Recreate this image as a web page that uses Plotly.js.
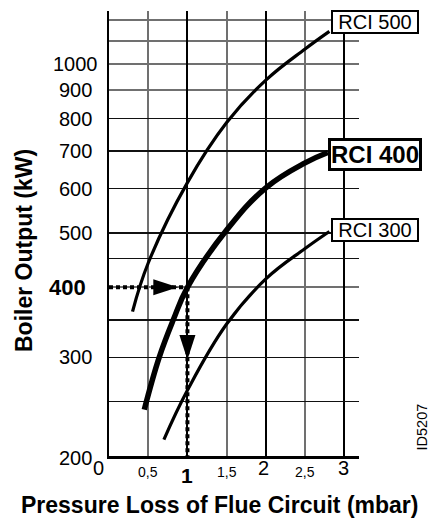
<!DOCTYPE html>
<html>
<head>
<meta charset="utf-8">
<script src="https://cdn.plot.ly/plotly-3.0.1.min.js"></script>
<style>html,body{margin:0;padding:0;background:#fff;}#chart{width:431px;height:521px;}</style>
</head>
<body>
<div id="chart"></div>
<script>
// ---- data ----
const seriesNames = ['RCI 500', 'RCI 400', 'RCI 300'];
const pressure500 = [0.30, 0.50, 1.0, 1.5, 2.0, 2.5, 2.81];
const output500   = [362, 442, 615, 787, 937, 1065, 1145];
const pressure400 = [0.45, 0.64, 0.82, 1.0, 1.5, 2.0, 2.5, 2.79];
const output400   = [242, 300, 350, 400, 506, 602, 667, 696];
const pressure300 = [0.70, 1.0, 1.5, 2.0, 2.5, 2.81];
const output300   = [214, 262, 344, 414, 469, 503];
const examplePressure = 1;
const exampleOutput = 400;
const arrowTipX = [0.88, 1];
const arrowTipY = [400, 297];
const xTickVals = [0, 0.5, 1, 1.5, 2, 2.5, 3];
const xTickText = ['0', '0,5', '1', '1,5', '2', '2,5', '3'];
const yTickVals = [200, 300, 400, 500, 600, 700, 800, 900, 1000];
const yTickText = ['200', '300', '400', '500', '600', '700', '800', '900', '1000'];
const xGridMajor = [1, 2, 3];
const xGridMinor = [0.5, 1.5, 2.5];
const yGridDark = [250, 300, 350, 450, 500, 600, 700, 800];
const yGridGray = [400, 900, 1000, 1100, 1200];
const drawingId = 'ID5207';

const FONT = 'Liberation Sans, Arial, sans-serif';
const L = 109, R = 72, T = 11, B = 65, W = 431, H = 521;
const plotW = W - L - R, plotH = H - T - B;
const pxPerUnit = 78.43, pxPerDecade = 560.4;
const yMin = Math.log10(200);
const yMax = yMin + plotH / pxPerDecade;
const xMax = plotW / pxPerUnit;
const px2paperX = p => (p - L) / plotW;
const px2paperY = p => (H - B - p) / plotH;

const curve = (x, y, w, name) => ({
  x: x, y: y, type: 'scatter', mode: 'lines', name: name,
  line: {color: '#000', width: w, shape: 'spline', smoothing: 1.15},
  hoverinfo: 'skip'
});

const data = [
  {x: [0, examplePressure], y: [exampleOutput, exampleOutput], type: 'scatter', mode: 'lines',
   line: {color: '#000', width: 4, dash: '4px,3px'}, hoverinfo: 'skip'},
  {x: [examplePressure, examplePressure], y: [exampleOutput, 200], type: 'scatter', mode: 'lines',
   line: {color: '#000', width: 4, dash: '4px,3px'}, hoverinfo: 'skip'},
  curve(pressure500, output500, 3.2, seriesNames[0]),
  curve(pressure400, output400, 5.5, seriesNames[1]),
  curve(pressure300, output300, 3.2, seriesNames[2]),
  {x: arrowTipX, y: arrowTipY, type: 'scatter', mode: 'markers',
   marker: {symbol: 'arrow', size: 26, angle: [90, 180], color: '#000', line: {width: 0}},
   hoverinfo: 'skip'}
];

const annotations = [];
// y tick labels
yTickVals.forEach((v, i) => {
  const bold = v === exampleOutput;
  annotations.push({
    xref: 'paper', yref: 'y', x: px2paperX(bold ? 67 : 75), y: Math.log10(v),
    xanchor: 'center', yanchor: 'middle', yshift: v === 200 ? -2 : 0,
    text: yTickText[i], showarrow: false,
    font: {family: FONT, size: bold ? 22 : 20, color: '#000', weight: bold ? 'bold' : 'normal'}
  });
});
// x tick labels
xTickVals.forEach((v, i) => {
  const bold = v === examplePressure;
  const big = Number.isInteger(v);
  let cy = big ? 468 : 472;
  if (bold) cy = 475;
  let xs = 0;
  if (v === 0) xs = -11;
  if (v === 2) xs = -2;
  if (v === 3) xs = -1;
  annotations.push({
    xref: 'x', yref: 'paper', x: v, y: 0, xshift: xs, yshift: -(cy - (H - B)),
    xanchor: 'center', yanchor: 'middle', text: xTickText[i], showarrow: false,
    font: {family: FONT, size: bold ? 21 : (big ? 20 : 14), color: '#000', weight: bold ? 'bold' : 'normal'}
  });
});
// series labels at curve ends
const labelInfo = [
  [pressure500, output500, 9, false],
  [pressure400, output400, -2, true],
  [pressure300, output300, 2, false]
];
labelInfo.forEach((li, i) => {
  const xs = li[0], ys = li[1], bold = li[3];
  annotations.push({
    xref: 'x', yref: 'y', x: xs[xs.length - 1], y: Math.log10(ys[ys.length - 1]),
    xanchor: 'left', yanchor: 'middle', xshift: bold ? 0 : 2, yshift: li[2],
    text: seriesNames[i], showarrow: false,
    bgcolor: '#fff', bordercolor: '#000', borderwidth: bold ? 3 : 2, borderpad: 0,
    width: bold ? 88 : 84, height: bold ? 27 : 20,
    font: {family: FONT, size: bold ? 24 : 20, color: '#000', weight: bold ? 'bold' : 'normal'}
  });
});
// axis titles
annotations.push({
  xref: 'paper', yref: 'paper', x: px2paperX(24), y: px2paperY(251), textangle: -90,
  xanchor: 'center', yanchor: 'middle', showarrow: false, text: 'Boiler Output (kW)',
  font: {family: FONT, size: 23, color: '#000', weight: 'bold'}
});
annotations.push({
  xref: 'paper', yref: 'paper', x: px2paperX(219), y: px2paperY(505),
  xanchor: 'center', yanchor: 'middle', showarrow: false,
  text: 'Pressure Loss of Flue Circuit (mbar)',
  font: {family: FONT, size: 23, color: '#000', weight: 'bold'}
});
annotations.push({
  xref: 'paper', yref: 'paper', x: px2paperX(421.5), y: px2paperY(427), textangle: -90,
  xanchor: 'center', yanchor: 'middle', showarrow: false, text: drawingId,
  font: {family: FONT, size: 14.5, color: '#000'}
});

const layout = {
  width: W, height: H,
  margin: {l: L, r: R, t: T, b: B, pad: 0},
  paper_bgcolor: '#fff', plot_bgcolor: '#fff',
  showlegend: false,
  xaxis: {
    range: [0, xMax], tickmode: 'array', tickvals: xGridMajor,
    showgrid: true, gridcolor: '#000', gridwidth: 2,
    showticklabels: false, ticks: '', zeroline: false,
    showline: true, linecolor: '#000', linewidth: 2.5, fixedrange: true,
    minor: {tickmode: 'array', tickvals: xGridMinor, showgrid: true, gridcolor: '#707070', gridwidth: 2, ticks: ''}
  },
  yaxis: {
    type: 'log', range: [yMin, yMax], tickmode: 'array', tickvals: yGridDark,
    showgrid: true, gridcolor: '#111', gridwidth: 1.5,
    showticklabels: false, ticks: '', zeroline: false,
    showline: true, linecolor: '#000', linewidth: 2.5, fixedrange: true,
    minor: {tickmode: 'array', tickvals: yGridGray, showgrid: true, gridcolor: '#707070', gridwidth: 2, ticks: ''}
  },
  annotations: annotations
};

Plotly.newPlot('chart', data, layout, {staticPlot: true, displayModeBar: false});
</script>
</body>
</html>
